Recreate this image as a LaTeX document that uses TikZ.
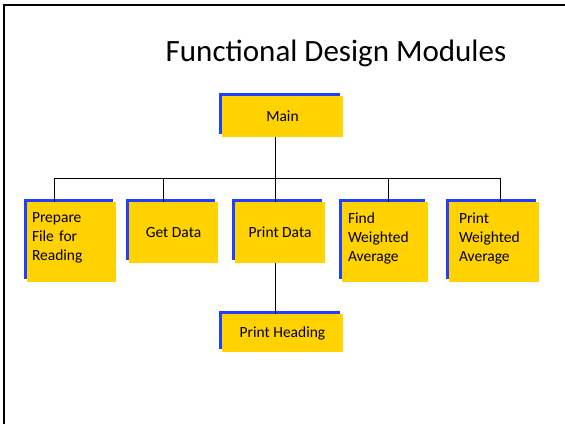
\documentclass[tikz,border=0pt]{standalone}
\usepackage{fontspec}
\setmainfont{Carlito}
\usetikzlibrary{shadows}
\definecolor{boxyellow}{RGB}{255,210,0}
\definecolor{boxblue}{RGB}{32,64,255}
\tikzset{
  modbox/.style={draw=none, fill=boxyellow, inner sep=0pt, align=left,
    font=\fontsize{15.5}{19}\selectfont,
    general shadow={fill=boxblue, shadow xshift=-3pt, shadow yshift=3pt}},
  wire/.style={draw=black, line width=0.8pt}
}
\begin{document}
\begin{tikzpicture}[x=1pt,y=-1pt]
\useasboundingbox (0,0) rectangle (565,424);
\draw[line width=2pt] (4,424) -- (4,5) -- (565,5);
\node[anchor=base, font=\fontsize{31}{36}\selectfont] (title) at (336,61) {Functional Design Modules};

\node[modbox, minimum width=121pt, minimum height=41pt, align=center] (main) at (282.5,116.5) {Main};
\node[modbox, minimum width=89pt, minimum height=80pt, text width=79pt, inner xsep=5pt] (prep) at (71.5,242)
  {Prepare\\File for\\Reading\rule[-10pt]{0pt}{10pt}};
\node[modbox, minimum width=89pt, minimum height=61pt, align=center] (get) at (173.5,232.5) {Get Data};
\node[modbox, minimum width=90pt, minimum height=61pt, align=center] (pd) at (280,232.5) {Print Data};
\node[modbox, minimum width=86pt, minimum height=80pt, text width=74pt, inner xsep=6pt] (find) at (385,242)
  {Find\\Weighted\\Average\rule[-10pt]{0pt}{10pt}};
\node[modbox, minimum width=90pt, minimum height=80pt, text width=70pt, inner xsep=10pt] (pw) at (494,242)
  {Print\\Weighted\\Average\rule[-10pt]{0pt}{10pt}};
\node[modbox, minimum width=121pt, minimum height=38pt, align=center] (ph) at (282.5,333) {Print Heading};

\coordinate (b1) at (54,178);
\coordinate (b2) at (163,178);
\coordinate (b3) at (275,178);
\coordinate (b4) at (388,178);
\coordinate (b5) at (500,178);
\draw[wire] (b1) -- (b5);
\draw[wire] (b3 |- main.south) -- (b3 |- pd.north);
\draw[wire] (b1) -- (b1 |- prep.north);
\draw[wire] (b2) -- (b2 |- get.north);
\draw[wire] (b4) -- (b4 |- find.north);
\draw[wire] (b5) -- (b5 |- pw.north);
\draw[wire] (b3 |- pd.south) -- (b3 |- ph.north);
\end{tikzpicture}
\end{document}
